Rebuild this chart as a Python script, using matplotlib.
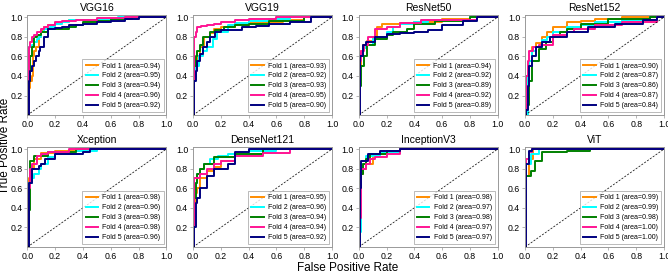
import matplotlib.pyplot as plt

plt.rcParams['font.family'] = ['Liberation Sans', 'DejaVu Sans']

models = ["VGG16", "VGG19", "ResNet50", "ResNet152",
          "Xception", "DenseNet121", "InceptionV3", "ViT"]
fold_colors = ["darkorange", "cyan", "green", "deeppink", "navy"]

# areas from the legends
vgg16_auc = [0.94, 0.95, 0.94, 0.96, 0.92]
vgg19_auc = [0.93, 0.92, 0.93, 0.95, 0.90]
resnet50_auc = [0.94, 0.92, 0.89, 0.92, 0.89]
resnet152_auc = [0.90, 0.87, 0.86, 0.87, 0.84]
xception_auc = [0.98, 0.96, 0.98, 0.98, 0.96]
densenet_auc = [0.95, 0.96, 0.94, 0.94, 0.92]
inception_auc = [0.98, 0.97, 0.98, 0.97, 0.97]
vit_auc = [0.99, 0.99, 0.98, 1.00, 1.00]

# ROC corner points (fpr, tpr), one list per fold
vgg16_fpr = [[0, 0.01, 0.02, 0.03, 0.04, 0.05, 0.06, 0.08, 0.1, 0.12, 0.15, 0.2, 0.25, 0.3, 0.4, 0.5, 0.7, 1],
             [0, 0.015, 0.03, 0.05, 0.07, 0.08, 0.1, 0.12, 0.16, 0.2, 0.25, 0.3, 0.4, 0.5, 0.65, 1],
             [0, 0.01, 0.02, 0.03, 0.05, 0.07, 0.1, 0.15, 0.2, 0.3, 0.35, 0.4, 0.5, 0.6, 0.75, 1],
             [0, 0.01, 0.02, 0.03, 0.05, 0.07, 0.1, 0.12, 0.15, 0.2, 0.25, 0.35, 0.5, 0.7, 1],
             [0, 0.01, 0.02, 0.03, 0.05, 0.06, 0.08, 0.09, 0.12, 0.15, 0.2, 0.25, 0.3, 0.4, 0.5, 0.6, 0.7, 0.8, 1]]
vgg16_tpr = [[0, 0.28, 0.35, 0.4, 0.6, 0.65, 0.7, 0.8, 0.86, 0.9, 0.92, 0.94, 0.95, 0.97, 0.97, 0.98, 1, 1],
             [0, 0.7, 0.72, 0.75, 0.78, 0.8, 0.85, 0.88, 0.9, 0.93, 0.95, 0.97, 0.97, 0.98, 1, 1],
             [0, 0.35, 0.6, 0.7, 0.8, 0.82, 0.85, 0.88, 0.88, 0.9, 0.92, 0.95, 0.96, 0.98, 1, 1],
             [0, 0.7, 0.75, 0.8, 0.82, 0.85, 0.88, 0.9, 0.92, 0.95, 0.96, 0.97, 0.99, 1, 1],
             [0, 0.35, 0.45, 0.5, 0.55, 0.6, 0.65, 0.7, 0.8, 0.88, 0.89, 0.9, 0.92, 0.93, 0.95, 0.96, 0.98, 1, 1]]

vgg19_fpr = [[0, 0.01, 0.03, 0.05, 0.08, 0.12, 0.15, 0.2, 0.3, 0.4, 0.5, 0.65, 0.8, 1],
             [0, 0.01, 0.02, 0.04, 0.07, 0.1, 0.14, 0.17, 0.25, 0.3, 0.4, 0.55, 0.7, 1],
             [0, 0.01, 0.02, 0.03, 0.05, 0.07, 0.12, 0.16, 0.22, 0.3, 0.4, 0.55, 0.8, 1],
             [0, 0.005, 0.01, 0.02, 0.03, 0.06, 0.1, 0.15, 0.2, 0.3, 0.4, 0.6, 1],
             [0, 0.01, 0.02, 0.03, 0.05, 0.07, 0.1, 0.12, 0.16, 0.2, 0.35, 0.45, 0.55, 0.7, 0.85, 1]]
vgg19_tpr = [[0, 0.5, 0.6, 0.7, 0.8, 0.84, 0.88, 0.9, 0.92, 0.94, 0.95, 0.97, 1, 1],
             [0, 0.4, 0.5, 0.6, 0.65, 0.7, 0.78, 0.85, 0.92, 0.94, 0.96, 0.98, 1, 1],
             [0, 0.5, 0.6, 0.65, 0.72, 0.8, 0.85, 0.87, 0.9, 0.92, 0.93, 0.96, 1, 1],
             [0, 0.7, 0.8, 0.85, 0.9, 0.91, 0.92, 0.93, 0.95, 0.97, 0.98, 1, 1],
             [0, 0.35, 0.45, 0.55, 0.62, 0.7, 0.75, 0.8, 0.85, 0.87, 0.9, 0.91, 0.93, 0.95, 1, 1]]

resnet50_fpr = [[0, 0.01, 0.02, 0.03, 0.06, 0.1, 0.13, 0.17, 0.3, 0.4, 0.6, 0.8, 1],
                [0, 0.01, 0.03, 0.05, 0.1, 0.15, 0.2, 0.25, 0.3, 0.4, 0.5, 0.8, 1],
                [0, 0.01, 0.02, 0.04, 0.06, 0.12, 0.2, 0.25, 0.35, 0.4, 0.55, 0.8, 1],
                [0, 0.01, 0.02, 0.04, 0.07, 0.12, 0.2, 0.3, 0.45, 0.85, 1],
                [0, 0.01, 0.03, 0.05, 0.12, 0.2, 0.3, 0.4, 0.5, 0.6, 0.75, 0.85, 1]]
resnet50_tpr = [[0, 0.5, 0.65, 0.72, 0.76, 0.8, 0.9, 0.93, 0.94, 0.95, 0.98, 1, 1],
                [0, 0.6, 0.68, 0.72, 0.78, 0.8, 0.85, 0.9, 0.93, 0.95, 0.97, 1, 1],
                [0, 0.3, 0.5, 0.6, 0.72, 0.78, 0.82, 0.85, 0.88, 0.93, 0.96, 1, 1],
                [0, 0.55, 0.65, 0.72, 0.8, 0.88, 0.9, 0.94, 0.97, 1, 1],
                [0, 0.6, 0.72, 0.75, 0.8, 0.83, 0.84, 0.85, 0.87, 0.92, 0.96, 1, 1]]

resnet152_fpr = [[0, 0.02, 0.03, 0.05, 0.08, 0.12, 0.16, 0.2, 0.3, 0.4, 0.5, 0.7, 1],
                 [0, 0.02, 0.03, 0.05, 0.08, 0.12, 0.16, 0.2, 0.3, 0.4, 0.5, 0.7, 0.9, 1],
                 [0, 0.01, 0.03, 0.05, 0.1, 0.15, 0.2, 0.25, 0.3, 0.4, 0.6, 0.9, 1],
                 [0, 0.01, 0.02, 0.03, 0.06, 0.1, 0.2, 0.3, 0.35, 0.5, 0.7, 0.95, 1],
                 [0, 0.005, 0.02, 0.03, 0.05, 0.08, 0.12, 0.18, 0.3, 0.45, 0.65, 0.85, 0.95, 1]]
resnet152_tpr = [[0, 0.4, 0.55, 0.7, 0.74, 0.8, 0.85, 0.9, 0.95, 0.96, 0.98, 1, 1],
                 [0, 0.45, 0.55, 0.65, 0.7, 0.77, 0.8, 0.85, 0.9, 0.92, 0.95, 0.97, 1, 1],
                 [0, 0.1, 0.35, 0.55, 0.67, 0.75, 0.8, 0.85, 0.88, 0.93, 0.98, 1, 1],
                 [0, 0.4, 0.55, 0.65, 0.7, 0.72, 0.82, 0.85, 0.88, 0.92, 0.95, 1, 1],
                 [0, 0.05, 0.3, 0.5, 0.6, 0.7, 0.75, 0.8, 0.85, 0.9, 0.93, 0.97, 1, 1]]

xception_fpr = [[0, 0.01, 0.03, 0.05, 0.1, 0.2, 0.4, 1],
                [0, 0.01, 0.03, 0.05, 0.08, 0.1, 0.15, 0.2, 0.35, 0.5, 1],
                [0, 0.01, 0.02, 0.05, 0.15, 0.35, 1],
                [0, 0.005, 0.02, 0.03, 0.07, 0.1, 0.15, 0.3, 1],
                [0, 0.01, 0.03, 0.08, 0.1, 0.13, 0.2, 0.4, 0.45, 1]]
xception_tpr = [[0, 0.7, 0.8, 0.9, 0.96, 0.98, 1, 1],
                [0, 0.65, 0.7, 0.75, 0.8, 0.85, 0.92, 0.95, 0.98, 1, 1],
                [0, 0.38, 0.88, 0.93, 0.97, 1, 1],
                [0, 0.6, 0.8, 0.85, 0.93, 0.95, 0.97, 1, 1],
                [0, 0.65, 0.8, 0.83, 0.85, 0.9, 0.95, 0.97, 1, 1]]

densenet_fpr = [[0, 0.01, 0.02, 0.03, 0.05, 0.1, 0.15, 0.2, 0.3, 0.5, 1],
                [0, 0.01, 0.03, 0.05, 0.08, 0.12, 0.18, 0.25, 0.4, 0.6, 1],
                [0, 0.01, 0.02, 0.03, 0.05, 0.08, 0.15, 0.3, 0.5, 1],
                [0, 0.005, 0.05, 0.1, 0.15, 0.2, 0.3, 0.5, 0.7, 1],
                [0, 0.005, 0.02, 0.03, 0.05, 0.1, 0.15, 0.25, 0.3, 0.4, 1]]
densenet_tpr = [[0, 0.45, 0.55, 0.6, 0.7, 0.78, 0.82, 0.88, 0.95, 1, 1],
                [0, 0.65, 0.75, 0.8, 0.85, 0.9, 0.93, 0.95, 0.98, 1, 1],
                [0, 0.5, 0.65, 0.75, 0.8, 0.85, 0.92, 0.95, 1, 1],
                [0, 0.7, 0.75, 0.8, 0.85, 0.88, 0.93, 0.96, 1, 1],
                [0, 0.2, 0.45, 0.5, 0.6, 0.72, 0.8, 0.85, 0.97, 1, 1]]

inception_fpr = [[0, 0.01, 0.03, 0.05, 0.1, 0.2, 0.3, 1],
                 [0, 0.005, 0.02, 0.05, 0.15, 0.3, 1],
                 [0, 0.005, 0.03, 0.05, 0.08, 0.2, 0.3, 1],
                 [0, 0.005, 0.02, 0.05, 0.08, 0.12, 0.2, 0.3, 1],
                 [0, 0.01, 0.02, 0.07, 0.15, 0.3, 1]]
inception_tpr = [[0, 0.75, 0.8, 0.85, 0.95, 0.98, 1, 1],
                 [0, 0.15, 0.85, 0.93, 0.97, 1, 1],
                 [0, 0.75, 0.85, 0.9, 0.95, 0.98, 1, 1],
                 [0, 0.3, 0.8, 0.85, 0.9, 0.92, 0.95, 1, 1],
                 [0, 0.6, 0.88, 0.95, 0.98, 1, 1]]

vit_fpr = [[0, 0.01, 0.03, 0.06, 1],
           [0, 0.005, 0.04, 0.1, 1],
           [0, 0.01, 0.04, 0.07, 0.12, 0.3, 0.47, 1],
           [0, 0.005, 0.03, 0.05, 1],
           [0, 0.005, 0.03, 0.05, 1]]
vit_tpr = [[0, 0.72, 0.9, 1, 1],
           [0, 0.85, 0.95, 1, 1],
           [0, 0.72, 0.78, 0.88, 0.97, 0.98, 1, 1],
           [0, 0.9, 0.97, 1, 1],
           [0, 0.85, 0.98, 1, 1]]

all_fpr = [vgg16_fpr, vgg19_fpr, resnet50_fpr, resnet152_fpr,
           xception_fpr, densenet_fpr, inception_fpr, vit_fpr]
all_tpr = [vgg16_tpr, vgg19_tpr, resnet50_tpr, resnet152_tpr,
           xception_tpr, densenet_tpr, inception_tpr, vit_tpr]
all_auc = [vgg16_auc, vgg19_auc, resnet50_auc, resnet152_auc,
           xception_auc, densenet_auc, inception_auc, vit_auc]

fig = plt.figure(figsize=(6.68, 2.76), dpi=100)

lefts = [0.041, 0.289, 0.537, 0.786]
bottoms = [0.583, 0.105]
w, h = 0.208, 0.362

for i, name in enumerate(models):
    ax = fig.add_axes([lefts[i % 4], bottoms[i // 4], w, h])
    for k in range(5):
        ax.plot(all_fpr[i][k], all_tpr[i][k], drawstyle="steps-post",
                color=fold_colors[k], lw=1.4,
                label="Fold %d (area=%.2f)" % (k + 1, all_auc[i][k]))
    ax.plot([0, 1], [0, 1], color="black", ls="--", lw=0.5, dashes=(3, 2))
    ax.set_xlim(0, 1.0)
    ax.set_ylim(0, 1.02)
    ax.set_xticks([0, 0.2, 0.4, 0.6, 0.8, 1.0])
    ax.set_yticks([0.2, 0.4, 0.6, 0.8, 1.0])
    ax.tick_params(labelsize=6.3, length=2, width=0.5, color="#999999", pad=1.5)
    for s in ax.spines.values():
        s.set_color("#999999")
        s.set_linewidth(0.7)
    ax.set_title(name, fontsize=7.5, pad=3)
    leg = ax.legend(loc="lower right", fontsize=5, handlelength=1.8,
                    handletextpad=0.6, labelspacing=0.42, borderpad=0.45,
                    fancybox=False, borderaxespad=0.4)
    leg.get_frame().set_edgecolor("#888888")
    leg.get_frame().set_linewidth(0.5)

fig.text(0.008, 0.47, "True Positive Rate", rotation=90, fontsize=8.5,
         ha="center", va="center")
fig.text(0.52, 0.03, "False Positive Rate", fontsize=8.5,
         ha="center", va="center")

fig.savefig("out.png", dpi=100)
